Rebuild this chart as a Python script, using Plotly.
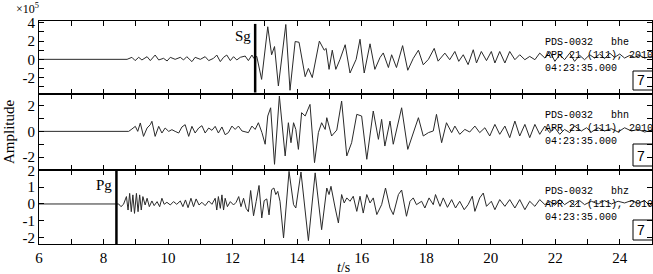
import plotly.graph_objects as go
from plotly.subplots import make_subplots

# ---------------- data ----------------
station = "PDS-0032"
components = ["bhe", "bhn", "bhz"]
date_label = "APR 21 (111), 2010"
time_label = "04:23:35.000"
box_label = "7"

phase_names = ["Sg", "Pg"]
phase_times = [12.70, 8.40]
phase_panels = [1, 3]

x_tick_vals = list(range(6, 26))
x_tick_text = [str(v) if v % 2 == 0 else "" for v in x_tick_vals]

y1_tick_vals = [-3, -2, -1, 0, 1, 2, 3, 4]
y1_tick_text = ["", "-2", "", "0", "", "2", "", "4"]
y2_tick_vals = [-3, -2, -1, 0, 1, 2]
y2_tick_text = ["", "-2", "", "0", "", "2"]
y3_tick_vals = [-2, -1, 0, 1, 2]
y3_tick_text = ["-2", "-1", "0", "1", "2"]

# bhe (x1e5)
bhe_t = [6.00, 8.62, 8.73, 8.88, 8.98, 9.09, 9.19, 9.35, 9.45, 9.60, 9.71, 9.86, 9.97,
         10.07, 10.22, 10.38, 10.48, 10.58, 10.74, 10.84, 11.00, 11.15, 11.26, 11.41, 11.51,
         11.62, 11.72, 11.82, 11.93, 12.03, 12.13, 12.24, 12.39, 12.49, 12.60, 12.66, 12.75,
         12.90, 13.09, 13.21, 13.30, 13.42, 13.65, 13.78, 13.94, 14.06, 14.25, 14.35, 14.47,
         14.69, 14.84, 14.90, 14.99, 15.09, 15.20, 15.33, 15.49, 15.64, 15.83, 15.95, 16.08,
         16.26, 16.41, 16.57, 16.67, 16.83, 16.93, 17.08, 17.27, 17.43, 17.60, 17.76, 17.91,
         18.07, 18.25, 18.37, 18.58, 18.73, 18.89, 19.01, 19.15, 19.30, 19.46, 19.56, 19.71,
         19.87, 20.02, 20.13, 20.28, 20.44, 20.59, 20.75, 20.90, 21.06, 21.21, 21.37, 21.52,
         21.68, 21.83, 21.99, 22.14, 22.29, 22.45, 22.60, 22.76, 22.91, 23.07, 23.22, 23.38,
         23.53, 23.69, 23.84, 24.00, 24.15, 24.31, 24.46, 24.62, 24.77, 24.93, 25.02]
bhe_a = [0.0, 0.0, 0.0, 0.22, -0.14, 0.22, -0.07, 0.29, -0.14, 0.47, -0.07, 0.11, -0.18,
         0.22, 0.0, 0.22, -0.07, 0.29, -0.25, 0.22, 0.0, 0.29, -0.14, 0.11, 0.47,
         -0.25, 0.22, 0.47, -0.14, 0.29, -0.07, 0.22, 0.36, -0.14, 0.47, 0.10, 0.32,
         -2.20, 3.57, 0.50, 1.40, -2.92, 3.82, -3.39, 1.95, 1.87, -1.90, -1.00, -2.00,
         2.00, 1.00, 1.20, -1.10, 1.00, -1.10, 0.00, 1.60, -1.50, 0.00, 2.20, -1.50,
         1.70, -1.10, 0.20, 0.70, -0.90, 0.50, -0.90, 1.50, -1.20, 0.10, 1.00, -0.60,
         0.00, 1.20, -0.20, 0.68, -0.04, 0.86, -0.22, 0.50, -0.58, 1.05, -0.40, 0.86,
         -0.14, 0.86, -0.40, 0.86, -0.40, 0.86, -0.04, 0.50, -0.04, 0.32, -0.04, 0.68,
         0.14, 0.86, -0.22, 0.50, -0.04, 0.68, -0.22, 0.43, -0.04, 0.50, 0.14, 0.58,
         0.07, 0.68, 0.22, 0.58, 0.14, 0.43, 0.22, 0.43, 0.14, 0.29, 0.22]

# bhn (x1e5)
bhn_t = [6.00, 8.73, 8.78, 8.88, 8.985, 9.06, 9.14, 9.24, 9.35, 9.45, 9.50, 9.60, 9.71,
         9.81, 9.91, 10.02, 10.12, 10.22, 10.33, 10.43, 10.53, 10.64, 10.74, 10.84, 10.95,
         11.05, 11.15, 11.26, 11.36, 11.46, 11.56, 11.67, 11.77, 11.87, 11.98, 12.08, 12.18,
         12.29, 12.39, 12.49, 12.60, 12.70, 12.80, 12.91, 13.01, 13.09, 13.18, 13.30, 13.45,
         13.63, 13.73, 13.81, 13.89, 13.96, 14.04, 14.14, 14.25, 14.40, 14.54, 14.66, 14.76,
         14.87, 14.92, 15.07, 15.23, 15.38, 15.54, 15.69, 15.85, 16.00, 16.16, 16.36, 16.52,
         16.62, 16.72, 16.88, 16.98, 17.24, 17.43, 17.60, 17.76, 17.91, 18.07, 18.22, 18.32,
         18.48, 18.63, 18.79, 18.89, 19.04, 19.20, 19.35, 19.51, 19.66, 19.82, 19.97, 20.13,
         20.28, 20.44, 20.59, 20.75, 20.90, 21.06, 21.21, 21.37, 21.52, 21.68, 21.83, 21.99,
         22.14, 22.29, 22.45, 22.60, 22.81, 22.97, 23.12, 23.33, 23.53, 23.74, 23.95, 24.15,
         24.36, 24.57, 24.77, 25.02]
bhn_a = [0.0, 0.0, 0.0, 0.18, 0.39, 0.0, 0.65, -0.39, 0.26, 0.52, 0.78, -0.39, 0.39,
         -0.13, 0.26, 0.0, 0.13, 0.0, -0.13, 0.34, 0.52, -0.39, 0.39, -0.13, 0.26,
         0.44, -0.13, 0.26, 0.08, 0.39, -0.13, 0.34, -0.26, -0.10, 0.41, 0.15, 0.41,
         0.03, -0.05, -0.10, 0.41, 0.15, 0.67, -0.10, -1.00, 1.19, 1.83, -2.56, 2.74,
         -1.91, 0.67, -0.88, 0.67, 0.15, -1.40, 1.45, 1.19, 2.09, -2.43, -0.10, 0.67,
         0.15, 1.06, -0.36, 0.10, 2.35, -1.91, -0.88, 1.32, 1.19, -2.17, 1.58, -0.62,
         0.93, -1.14, 0.80, -1.00, 1.83, -1.40, -0.10, 1.06, -0.36, -0.10, 0.03, 1.32,
         -0.88, 0.67, -0.10, 0.41, -0.23, 0.15, -0.05, 0.41, -0.10, 0.28, -0.36, 0.54,
         -0.23, 0.41, -0.49, 0.80, -0.36, 0.54, -0.49, 0.54, -0.23, 0.41, -0.10, 0.28,
         -0.23, 0.15, -0.10, 0.41, 0.03, 0.28, -0.05, 0.28, 0.03, 0.21, -0.05, 0.28,
         0.03, 0.15, -0.05, 0.10]

# bhz (x1e5)
bhz_t = [6.00, 8.40, 8.47, 8.54, 8.62, 8.71, 8.76, 8.81, 8.86, 8.91, 8.96, 9.02, 9.07,
         9.12, 9.17, 9.22, 9.29, 9.35, 9.42, 9.50, 9.57, 9.66, 9.74, 9.81, 9.88,
         9.965, 10.07, 10.17, 10.27, 10.38, 10.46, 10.54, 10.62, 10.71, 10.79, 10.87, 10.96,
         11.05, 11.15, 11.26, 11.36, 11.46, 11.51, 11.56, 11.62, 11.67, 11.72, 11.77, 11.84,
         11.93, 12.03, 12.11, 12.19, 12.26, 12.34, 12.42, 12.49, 12.56, 12.65, 12.73, 12.82,
         12.905, 12.98, 13.06, 13.13, 13.21, 13.28, 13.34, 13.40, 13.47, 13.58, 13.75, 13.89,
         13.96, 14.12, 14.35, 14.56, 14.76, 14.92, 14.99, 15.05, 15.18, 15.28, 15.38, 15.46,
         15.54, 15.64, 15.74, 15.85, 15.95, 16.05, 16.16, 16.26, 16.36, 16.47, 16.62, 16.74,
         16.88, 16.98, 17.14, 17.24, 17.39, 17.50, 17.60, 17.70, 17.86, 17.96, 18.09, 18.22,
         18.29, 18.43, 18.53, 18.66, 18.79, 18.91, 19.04, 19.18, 19.30, 19.43, 19.51, 19.66,
         19.77, 19.87, 20.02, 20.13, 20.28, 20.44, 20.59, 20.75, 20.90, 21.06, 21.21, 21.37,
         21.52, 21.68, 21.83, 21.99, 22.14, 22.29, 22.45, 22.60, 22.76, 22.91, 23.12, 23.33,
         23.53, 23.74, 23.95, 24.15, 24.36, 24.57, 24.77, 24.93, 25.02]
bhz_a = [0.0, 0.0, 0.0, -0.16, -0.02, 0.44, -0.36, 0.63, -0.46, 0.54, -0.56, 0.63, -0.46,
         0.54, -0.36, 0.44, -0.06, 0.34, -0.16, 0.18, -0.10, 0.14, -0.16, 0.34, -0.02,
         0.10, -0.06, 0.14, -0.02, 0.18, -0.16, 0.24, -0.22, 0.34, -0.16, 0.30, -0.06,
         0.10, -0.10, 0.18, -0.02, 0.34, -0.36, 0.44, -0.26, 0.54, -0.36, 0.34, -0.16,
         0.14, -0.06, 0.10, 0.44, -0.16, 0.34, -0.26, -0.46, 0.80, -0.70, 0.14, 1.10,
         -0.83, 0.20, 0.30, -0.65, 0.85, 0.95, 0.56, 0.75, 0.16, -2.02, 1.94, -0.04,
         -0.24, 1.90, -2.18, 1.85, -1.53, 0.95, 0.56, 1.05, -0.24, -1.13, 0.56, 0.06,
         0.36, 0.16, 0.46, -0.44, 0.46, -0.54, 0.56, 0.06, 0.36, -0.63, -0.04, 0.95,
         -0.24, -0.63, 0.56, 0.83, -0.73, 0.16, 0.36, -0.04, 0.16, -0.24, 0.36, -0.04,
         0.56, -0.14, 0.36, -0.20, 0.26, -0.24, 0.16, -0.34, -0.04, 0.46, -0.44, 0.36,
         0.65, -0.14, 0.16, -0.34, 0.26, -0.14, 0.26, -0.24, 0.26, -0.34, 0.16, -0.14,
         0.26, -0.04, 0.16, -0.08, 0.26, -0.04, 0.16, -0.08, 0.20, -0.04, 0.16, 0.00,
         0.20, 0.00, 0.16, 0.06, 0.20, 0.04, 0.20, -0.10, 0.12]

traces_t = [bhe_t, bhn_t, bhz_t]
traces_a = [bhe_a, bhn_a, bhz_a]

# ---------------- layout helpers ----------------
W, H = 653, 274
ML, MR, MT, MB = 39, 1, 21, 30
PW = W - ML - MR
PH = H - MT - MB
panel_px = [73, 76, 74]
y_ranges = [[-3.8, 4.2], [-3.0, 2.9], [-2.38, 2.02]]
y_tv = [y1_tick_vals, y2_tick_vals, y3_tick_vals]
y_tt = [y1_tick_text, y2_tick_text, y3_tick_text]

def px_x(px):
    return (px - ML) / PW

def px_y(py):
    return (H - MB - py) / PH

serif = "Liberation Serif, Times New Roman, serif"
mono = "Liberation Mono, DejaVu Sans Mono, monospace"

fig = make_subplots(rows=3, cols=1, shared_xaxes=True, vertical_spacing=0,
                    row_heights=panel_px)

for i in range(3):
    fig.add_trace(go.Scatter(x=traces_t[i], y=traces_a[i], mode="lines",
                             line=dict(color="#2a2a2a", width=1),
                             showlegend=False, hoverinfo="skip"), row=i + 1, col=1)

axis_common = dict(showline=True, linecolor="black", linewidth=1, mirror="allticks",
                   ticks="inside", ticklen=5, tickwidth=1, tickcolor="black",
                   showgrid=False, zeroline=False,
                   tickfont=dict(family=serif, size=15, color="black"))

for i in range(3):
    fig.update_xaxes(range=[6, 25], tickmode="array", tickvals=x_tick_vals,
                     ticktext=x_tick_text, showticklabels=(i == 2),
                     row=i + 1, col=1, **axis_common)
    fig.update_yaxes(range=y_ranges[i], tickmode="array", tickvals=y_tv[i],
                     ticktext=y_tt[i], row=i + 1, col=1, **axis_common)

# panel tops in pixels
tops = [MT, MT + panel_px[0], MT + panel_px[0] + panel_px[1]]
annotations = []
shapes = []
for i in range(3):
    top = tops[i]
    hgt = panel_px[i]
    annotations.append(dict(
        xref="paper", yref="paper", x=px_x(543), y=px_y(top + 14),
        xanchor="left", yanchor="top", showarrow=False, align="left",
        text=f"{station}\u00a0\u00a0\u00a0{components[i]}<br>{date_label}<br>{time_label}",
        font=dict(family=mono, size=10, color="black")))
    shapes.append(dict(type="rect", xref="paper", yref="paper",
                       x0=px_x(633), x1=px_x(660), y0=px_y(top + hgt - 4),
                       y1=px_y(top + 50), line=dict(color="black", width=1)))
    annotations.append(dict(
        xref="paper", yref="paper", x=px_x(641), y=px_y(top + hgt - 14),
        xanchor="center", yanchor="middle", showarrow=False, text=box_label,
        font=dict(family="Liberation Sans, Arial, sans-serif", size=14, color="black")))

for name, t, p in zip(phase_names, phase_times, phase_panels):
    yref = "y" if p == 1 else f"y{p}"
    xref = "x" if p == 1 else f"x{p}"
    shapes.append(dict(type="line", xref=xref, yref=f"{yref} domain", x0=t, x1=t,
                       y0=0.02 if p == 1 else 0.0, y1=0.96 if p == 1 else 1.0,
                       line=dict(color="black", width=2.5)))
    annotations.append(dict(xref=xref, yref=f"{yref} domain", x=t, y=0.8,
                            xanchor="right", yanchor="middle", xshift=-2,
                            showarrow=False, text=name,
                            font=dict(family=serif, size=15, color="black")))

annotations.append(dict(xref="paper", yref="paper", x=px_x(9), y=px_y(132),
                        textangle=-90, showarrow=False, text="Amplitude",
                        xanchor="center", yanchor="middle",
                        font=dict(family=serif, size=15, color="black")))
annotations.append(dict(xref="paper", yref="paper", x=px_x(343), y=px_y(267),
                        showarrow=False, text="<i>t</i>/s",
                        xanchor="center", yanchor="middle",
                        font=dict(family=serif, size=14, color="black")))
annotations.append(dict(xref="paper", yref="paper", x=px_x(14), y=px_y(8),
                        showarrow=False, text="×10<sup>5</sup>",
                        xanchor="left", yanchor="middle",
                        font=dict(family=serif, size=12, color="black")))

fig.update_layout(width=W, height=H, margin=dict(l=ML, r=MR, t=MT, b=MB),
                  plot_bgcolor="white", paper_bgcolor="white",
                  annotations=annotations, shapes=shapes, showlegend=False)

fig.write_html("out.html", config={"displayModeBar": False},
               post_script="document.body.style.margin='0px';document.body.style.overflow='hidden';")
